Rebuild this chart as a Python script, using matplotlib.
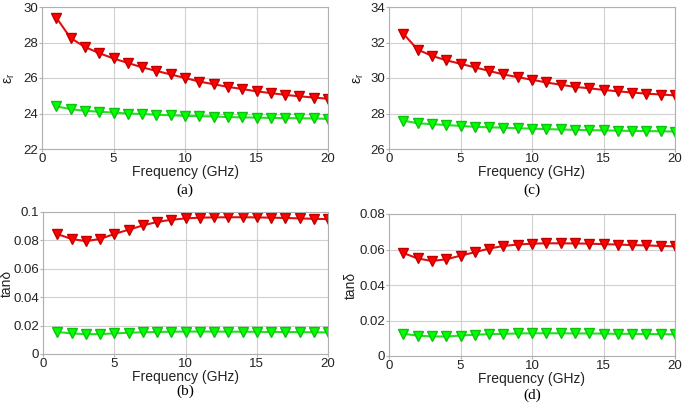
import matplotlib.pyplot as plt

freq = list(range(1, 21))

# (a) permittivity
eps_a_red = [29.4, 28.25, 27.75, 27.4, 27.1, 26.85, 26.6, 26.4, 26.2, 26.0,
             25.8, 25.65, 25.5, 25.38, 25.25, 25.15, 25.05, 24.97, 24.9, 24.83]
eps_a_green = [24.4, 24.25, 24.15, 24.1, 24.05, 24.0, 23.97, 23.93, 23.9, 23.87,
               23.85, 23.83, 23.8, 23.78, 23.77, 23.75, 23.74, 23.73, 23.72, 23.7]

# (c) permittivity
eps_c_red = [32.5, 31.6, 31.25, 31.0, 30.8, 30.6, 30.4, 30.2, 30.05, 29.9,
             29.75, 29.62, 29.5, 29.42, 29.33, 29.25, 29.18, 29.12, 29.07, 29.02]
eps_c_green = [27.6, 27.45, 27.4, 27.35, 27.3, 27.25, 27.22, 27.2, 27.17, 27.15,
               27.12, 27.1, 27.08, 27.06, 27.05, 27.03, 27.02, 27.01, 27.0, 26.98]

# (b) loss tangent
tan_b_red = [0.0845, 0.081, 0.0795, 0.081, 0.0845, 0.0875, 0.0905, 0.093, 0.0945, 0.0955,
             0.096, 0.0962, 0.0963, 0.0963, 0.0962, 0.096, 0.0958, 0.0955, 0.0952, 0.095]
tan_b_green = [0.0155, 0.0145, 0.014, 0.014, 0.0145, 0.015, 0.0153, 0.0155, 0.0157, 0.0158,
               0.0158, 0.0158, 0.0157, 0.0157, 0.0156, 0.0155, 0.0155, 0.0154, 0.0153, 0.0152]

# (d) loss tangent
tan_d_red = [0.058, 0.055, 0.0535, 0.0545, 0.0565, 0.0585, 0.0605, 0.062, 0.0628, 0.0633,
             0.0635, 0.0635, 0.0634, 0.0633, 0.063, 0.0628, 0.0625, 0.0623, 0.062, 0.0618]
tan_d_green = [0.0125, 0.0115, 0.011, 0.011, 0.0115, 0.012, 0.0123, 0.0125, 0.0127, 0.0128,
               0.0128, 0.0128, 0.0127, 0.0127, 0.0126, 0.0125, 0.0125, 0.0124, 0.0123, 0.0122]

plt.rcParams['font.family'] = ['Liberation Sans', 'DejaVu Sans']

fig = plt.figure(figsize=(6.85, 4.05), dpi=100)
W, H = 685.0, 405.0


def make_axes(left, top, right, bottom):
    return fig.add_axes([left / W, 1 - bottom / H, (right - left) / W, (bottom - top) / H])


panels = [
    # box, red, green, ylim, yticks, ylabel, ylabel x (px), caption, caption y
    ((42, 7, 328, 149), eps_a_red, eps_a_green, (22, 30), [22, 24, 26, 28, 30],
     r'$\mathregular{\varepsilon_r}$', 10, '(a)', 190),
    ((389, 7, 675, 149), eps_c_red, eps_c_green, (26, 34), [26, 28, 30, 32, 34],
     r'$\mathregular{\varepsilon_r}$', 359, '(c)', 190),
    ((43, 212, 328, 354), tan_b_red, tan_b_green, (0, 0.1), [0, 0.02, 0.04, 0.06, 0.08, 0.1],
     'tanδ', 7, '(b)', 391),
    ((389, 214, 675, 356), tan_d_red, tan_d_green, (0, 0.08), [0, 0.02, 0.04, 0.06, 0.08],
     'tanδ', 351, '(d)', 395),
]

for box, red, green, ylim, yticks, ylabel, lx, caption, cy in panels:
    ax = make_axes(*box)
    ax.plot(freq, red, color='#e01010', marker='v', markersize=7.5,
            markerfacecolor='#ff0000', markeredgecolor='#c00000', linewidth=1.5)
    ax.plot(freq, green, color='#20e020', marker='v', markersize=7.5,
            markerfacecolor='#00ff00', markeredgecolor='#10c010', linewidth=1.5)
    ax.set_xlim(0, 20)
    ax.set_ylim(*ylim)
    ax.set_xticks([0, 5, 10, 15, 20])
    ax.set_yticks(yticks)
    ax.set_yticklabels([('%g' % t) for t in yticks])
    ax.grid(True, color='#d0d0d0', linewidth=0.8)
    ax.set_axisbelow(True)
    for s in ax.spines.values():
        s.set_color('#b0b0b0')
        s.set_linewidth(0.8)
    ax.tick_params(length=2, width=0.8, color='#b0b0b0', labelsize=9.5, pad=1,
                   labelcolor='#222222')
    ax.set_xlabel('Frequency (GHz)', fontsize=10, labelpad=0, color='#222222')
    ax.set_ylabel(ylabel, fontsize=10, color='#222222', va='center')
    ax.yaxis.set_label_coords((lx - box[0]) / (box[2] - box[0]), 0.5)
    cx = (box[0] + box[2]) / 2.0
    fig.text(cx / W, 1 - cy / H, caption, ha='center', va='center',
             fontsize=11, family='Liberation Serif')

fig.savefig('out.png', dpi=100)
